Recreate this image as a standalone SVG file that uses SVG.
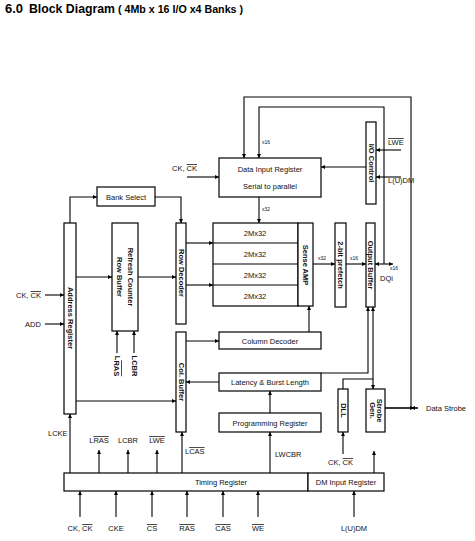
<svg xmlns="http://www.w3.org/2000/svg" width="475" height="541" viewBox="0 0 475 541">
<style>
  .box { fill: #fff; stroke: #000; stroke-width: 1.2; }
  .ln { fill: none; stroke: #000; stroke-width: 1.1; }
  .t { font-family: "Liberation Sans", Arial, sans-serif; font-size: 7.5px; fill: #111; }
  .tb { font-family: "Liberation Sans", Arial, sans-serif; font-size: 7.5px; font-weight: bold; fill: #111; }
  .s { font-family: "Liberation Sans", Arial, sans-serif; font-size: 5px; fill: #111; }
  .ov { text-decoration: overline; }
  .m { text-anchor: middle; }
  .h { font-family: "Liberation Sans", Arial, sans-serif; font-weight: bold; fill: #000; }
</style>
<defs>
  <marker id="ah" viewBox="0 0 6 6" refX="6" refY="3" markerWidth="4" markerHeight="4" orient="auto" markerUnits="userSpaceOnUse">
    <path d="M0,0 L6,3 L0,6 z" fill="#000"/>
  </marker>
</defs>
<rect width="475" height="541" fill="#fff"/>
<g id="title">
  <text class="h" x="5" y="13" font-size="13">6.0</text>
  <text class="h" x="29" y="13" font-size="13" textLength="86" lengthAdjust="spacingAndGlyphs">Block Diagram</text>
  <text class="h" x="118" y="13" font-size="10" textLength="125" lengthAdjust="spacingAndGlyphs">( 4Mb x 16 I/O x4 Banks )</text>
</g>

<g id="connectors">
  <path class="ln" d="M70,223 V197 H97" marker-end="url(#ah)"/>
  <path class="ln" d="M155,197 H181 V223" marker-end="url(#ah)"/>
  <path class="ln" d="M76,277 H112" marker-end="url(#ah)"/>
  <path class="ln" d="M138,277 H176" marker-end="url(#ah)"/>
  <path class="ln" d="M76,401 H176" marker-end="url(#ah)"/>
  <path class="ln" d="M45,295 H64" marker-end="url(#ah)"/>
  <path class="ln" d="M45,324 H64" marker-end="url(#ah)"/>
  <path class="ln" d="M117,353 V331" marker-end="url(#ah)"/>
  <path class="ln" d="M134,353 V331" marker-end="url(#ah)"/>
  <path class="ln" d="M186,243 H213" marker-end="url(#ah)"/>
  <path class="ln" d="M186,285 H213" marker-end="url(#ah)"/>
  <path class="ln" d="M186,341 H219" marker-end="url(#ah)"/>
  <path class="ln" d="M309,332 V306" marker-end="url(#ah)"/>
  <path class="ln" d="M219,382 H186" marker-end="url(#ah)"/>
  <path class="ln" d="M270,413 V391" marker-end="url(#ah)"/>
  <path class="ln" d="M270,473 V432" marker-end="url(#ah)"/>
  <path class="ln" d="M187,177 H219" marker-end="url(#ah)"/>
  <path class="ln" d="M259,197 V223" marker-end="url(#ah)"/>
  <path class="ln" d="M411,408 V97 H244 V158" marker-end="url(#ah)"/>
  <path class="ln" d="M384,264 V107 H259 V158" marker-end="url(#ah)"/>
  <path class="ln" d="M366,167 H321" marker-end="url(#ah)"/>
  <path class="ln" d="M401,150 H376" marker-end="url(#ah)"/>
  <path class="ln" d="M401,177 H376" marker-end="url(#ah)"/>
  <path class="ln" d="M313,264 H335" marker-end="url(#ah)"/>
  <path class="ln" d="M346,264 H366" marker-end="url(#ah)"/>
  <path class="ln" d="M384,264 H375" marker-end="url(#ah)"/>
  <path class="ln" d="M384,264 H393" marker-end="url(#ah)"/>
  <path class="ln" d="M321,373 H368 V307" marker-end="url(#ah)"/>
  <path class="ln" d="M343,389 V379 H373 V307" marker-end="url(#ah)"/>
  <path class="ln" d="M373,379 V389" marker-end="url(#ah)"/>
  <path class="ln" d="M343,454 V432" marker-end="url(#ah)"/>
  <path class="ln" d="M374,473 V451" marker-end="url(#ah)"/>
  <path class="ln" d="M385,408 H418"/>
  <path class="ln" d="M418,408 H411" marker-end="url(#ah)"/>
  <path class="ln" d="M385,408 H414" marker-end="url(#ah)"/>
  <path class="ln" d="M70,473 V414" marker-end="url(#ah)"/>
  <path class="ln" d="M99,473 V450" marker-end="url(#ah)"/>
  <path class="ln" d="M128,473 V450" marker-end="url(#ah)"/>
  <path class="ln" d="M157,473 V450" marker-end="url(#ah)"/>
  <path class="ln" d="M182,473 V432" marker-end="url(#ah)"/>
  <path class="ln" d="M80,517 V491" marker-end="url(#ah)"/>
  <path class="ln" d="M116,517 V491" marker-end="url(#ah)"/>
  <path class="ln" d="M152,517 V491" marker-end="url(#ah)"/>
  <path class="ln" d="M187,517 V491" marker-end="url(#ah)"/>
  <path class="ln" d="M223,517 V491" marker-end="url(#ah)"/>
  <path class="ln" d="M258,517 V491" marker-end="url(#ah)"/>
  <path class="ln" d="M354,517 V491" marker-end="url(#ah)"/>
</g>

<g id="bank-select">
  <rect class="box" x="97" y="187" width="58" height="19"/>
  <text class="t m" x="126" y="199.5">Bank Select</text>
</g>
<g id="address-register">
  <rect class="box" x="64" y="223" width="12" height="191"/>
  <text class="tb m" transform="translate(70,318) rotate(90)" dominant-baseline="central">Address Register</text>
</g>
<g id="refresh-counter">
  <rect class="box" x="112" y="223" width="26" height="108"/>
  <text class="tb m" transform="translate(130,277) rotate(90)" dominant-baseline="central">Refresh Counter</text>
  <text class="tb m" transform="translate(119,277) rotate(90)" dominant-baseline="central">Row Buffer</text>
</g>
<g id="row-decoder">
  <rect class="box" x="176" y="223" width="10" height="101"/>
  <text class="tb m" transform="translate(181,273) rotate(90)" dominant-baseline="central">Row Decoder</text>
</g>
<g id="col-buffer">
  <rect class="box" x="176" y="332" width="10" height="100"/>
  <text class="tb m" transform="translate(181,382) rotate(90)" dominant-baseline="central">Col. Buffer</text>
</g>
<g id="data-input-register">
  <rect class="box" x="219" y="158" width="102" height="39"/>
  <text class="t m" x="270" y="172">Data Input Register</text>
  <text class="t m" x="270" y="189">Serial to parallel</text>
</g>
<g id="io-control">
  <rect class="box" x="366" y="122" width="10" height="82"/>
  <text class="tb m" transform="translate(371,163) rotate(90)" dominant-baseline="central">I/O Control</text>
</g>
<g id="memory-array">
  <rect class="box" x="213" y="223" width="85" height="83"/>
  <line class="ln" x1="213" y1="243" x2="298" y2="243"/>
  <line class="ln" x1="213" y1="264" x2="298" y2="264"/>
  <line class="ln" x1="213" y1="285" x2="298" y2="285"/>
  <text class="t m" x="255" y="236">2Mx32</text>
  <text class="t m" x="255" y="257">2Mx32</text>
  <text class="t m" x="255" y="278">2Mx32</text>
  <text class="t m" x="255" y="299">2Mx32</text>
</g>
<g id="sense-amp">
  <rect class="box" x="298" y="223" width="15" height="83"/>
  <text class="tb m" transform="translate(305.5,265) rotate(90)" dominant-baseline="central">Sense AMP</text>
</g>
<g id="prefetch">
  <rect class="box" x="335" y="223" width="11" height="84"/>
  <text class="tb m" transform="translate(340.5,265) rotate(90)" dominant-baseline="central">2-bit prefetch</text>
</g>
<g id="output-buffer">
  <rect class="box" x="366" y="223" width="9" height="84"/>
  <text class="tb m" transform="translate(370.5,265) rotate(90)" dominant-baseline="central">Output Buffer</text>
</g>
<g id="column-decoder">
  <rect class="box" x="219" y="332" width="102" height="17"/>
  <text class="t m" x="270" y="343.5">Column Decoder</text>
</g>
<g id="latency">
  <rect class="box" x="219" y="373" width="102" height="18"/>
  <text class="t m" x="270" y="385">Latency &amp; Burst Length</text>
</g>
<g id="programming-register">
  <rect class="box" x="219" y="413" width="102" height="19"/>
  <text class="t m" x="270" y="425.5">Programming Register</text>
</g>
<g id="dll">
  <rect class="box" x="338" y="389" width="10" height="43"/>
  <text class="tb m" transform="translate(343,410.5) rotate(90)" dominant-baseline="central">DLL</text>
</g>
<g id="strobe-gen">
  <rect class="box" x="366" y="389" width="19" height="43"/>
  <text class="tb m" transform="translate(379,410.5) rotate(90)" dominant-baseline="central">Strobe</text>
  <text class="tb m" transform="translate(372,410.5) rotate(90)" dominant-baseline="central">Gen.</text>
</g>
<g id="timing-register">
  <rect class="box" x="64" y="473" width="244" height="18"/>
  <text class="t m" x="221" y="485">Timing Register</text>
</g>
<g id="dm-input-register">
  <rect class="box" x="308" y="473" width="76" height="18"/>
  <text class="t m" x="346" y="485">DM Input Register</text>
</g>

<g id="labels">
  <text class="t" x="16" y="298">CK, <tspan class="ov">CK</tspan></text>
  <text class="t" x="25" y="327">ADD</text>
  <text class="tb m" transform="translate(117,366) rotate(90)" dominant-baseline="central">L<tspan class="ov">RAS</tspan></text>
  <text class="tb m" transform="translate(134,366) rotate(90)" dominant-baseline="central">LCBR</text>
  <text class="t" x="172" y="171">CK, <tspan class="ov">CK</tspan></text>
  <text class="s" x="262" y="144">x16</text>
  <text class="s" x="262" y="211">x32</text>
  <text class="s" x="318" y="260">x32</text>
  <text class="s" x="350" y="260">x16</text>
  <text class="s" x="390" y="270">x16</text>
  <text class="t" x="380" y="281">DQi</text>
  <text class="t ov" x="388" y="145">LWE</text>
  <text class="t" x="388" y="183">L(U)DM</text>
  <text class="t" x="426" y="411">Data Strobe</text>
  <text class="t" x="328" y="465">CK, <tspan class="ov">CK</tspan></text>
  <text class="t" x="275" y="457">LWCBR</text>
  <text class="t" x="48" y="436">LCKE</text>
  <text class="t m" x="99" y="443">L<tspan class="ov">RAS</tspan></text>
  <text class="t m" x="128" y="443">LCBR</text>
  <text class="t m ov" x="157" y="443">LWE</text>
  <text class="t" x="185" y="454">L<tspan class="ov">CAS</tspan></text>
  <text class="t m" x="80" y="531">CK, <tspan class="ov">CK</tspan></text>
  <text class="t m" x="116" y="531">CKE</text>
  <text class="t m ov" x="152" y="531">CS</text>
  <text class="t m ov" x="187" y="531">RAS</text>
  <text class="t m ov" x="223" y="531">CAS</text>
  <text class="t m ov" x="258" y="531">WE</text>
  <text class="t m" x="354" y="531">L(U)DM</text>
</g>
</svg>
